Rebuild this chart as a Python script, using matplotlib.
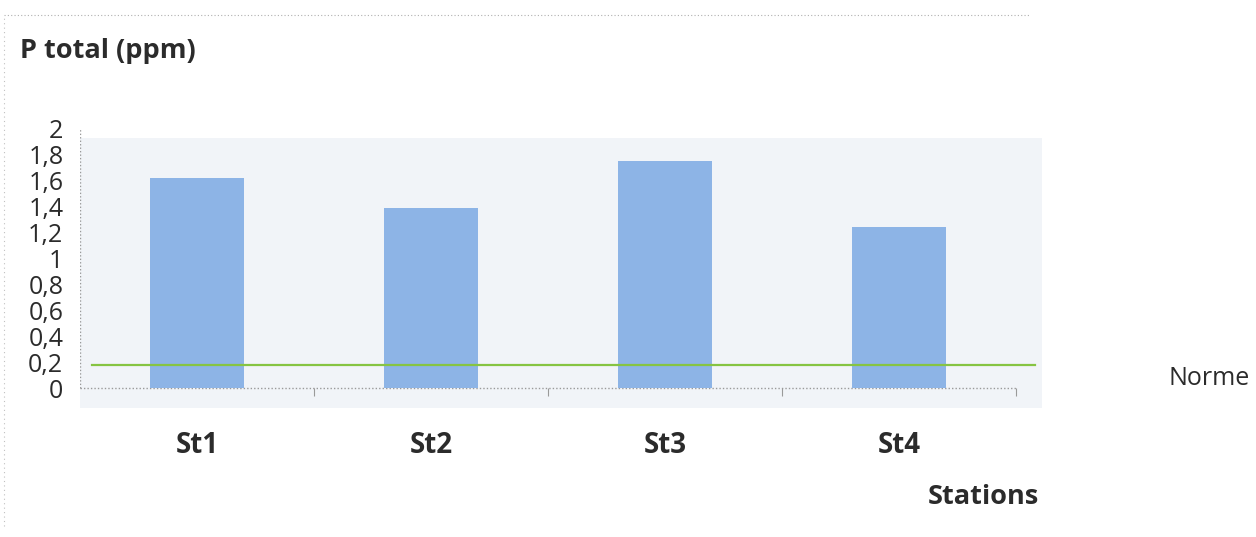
import numpy as np
import matplotlib.pyplot as plt
from matplotlib.patches import Rectangle
from matplotlib.lines import Line2D

stations = ['St1', 'St2', 'St3', 'St4']
p_total = [1.62, 1.39, 1.75, 1.24]
norme = 0.18
yticks = [0, 0.2, 0.4, 0.6, 0.8, 1, 1.2, 1.4, 1.6, 1.8, 2]

plt.rcParams['font.family'] = ['Open Sans', 'DejaVu Sans']

fig = plt.figure(figsize=(12.56, 5.37), dpi=100)
ax = fig.add_axes([0.0637, 0.2402, 0.766, 0.5196])

x = np.arange(len(stations))
ax.set_xlim(-0.5, 3.61)
ax.set_ylim(-0.154, 2.0)

# fond gris-bleu de la zone de tracé
ax.add_patch(Rectangle((-0.5, -0.154), 4.11, 2.084, facecolor='#f1f4f8',
                       edgecolor='none', zorder=0))

ax.bar(x, p_total, width=0.40, color='#8db4e6', zorder=2)

# ligne de la norme
ax.plot([-0.45, 3.58], [norme, norme], color='#86c442', linewidth=1.6, zorder=3)

# axes pointillés
ax.plot([-0.5, 3.5], [0, 0], color='#9a9a9a', linestyle=(0, (1, 1.5)),
        linewidth=1, zorder=1)
ax.plot([-0.5, -0.5], [0, 2.0], color='#9a9a9a', linestyle=(0, (1, 1.5)),
        linewidth=1, zorder=1)
ax.vlines(x + 0.5, -0.06, 0, color='#9a9a9a', linewidth=0.8, zorder=1)

for s in ax.spines.values():
    s.set_visible(False)

ax.set_yticks(yticks)
ax.set_yticklabels([f'{v:g}'.replace('.', ',') for v in yticks],
                   fontsize=18, color='#2b2b2b')
ax.tick_params(axis='y', length=0, pad=12)
ax.set_xticks([])

for xi, name in zip(x, stations):
    ax.text(xi, -0.33, name, ha='center', va='top', fontsize=20,
            fontweight='bold', color='#2b2b2b')

fig.text(0.016, 0.905, 'P total (ppm)', ha='left', va='center', fontsize=19.5,
         fontweight='bold', color='#2b2b2b')
fig.text(0.827, 0.075, 'Stations', ha='right', va='center', fontsize=19.5,
         fontweight='bold', color='#2b2b2b')
fig.text(0.930, 0.296, 'Norme', ha='left', va='center', fontsize=18,
         color='#2b2b2b')

# bordures pointillées du cadre
fig.add_artist(Line2D([0.003, 0.82], [0.972, 0.972], color='#b0b0b0',
                      linestyle=(0, (1, 2)), linewidth=0.8))
fig.add_artist(Line2D([0.003, 0.003], [0.02, 0.972], color='#c0c0c0',
                      linestyle=(0, (1, 3)), linewidth=0.8))

fig.savefig('out.png', dpi=100)
